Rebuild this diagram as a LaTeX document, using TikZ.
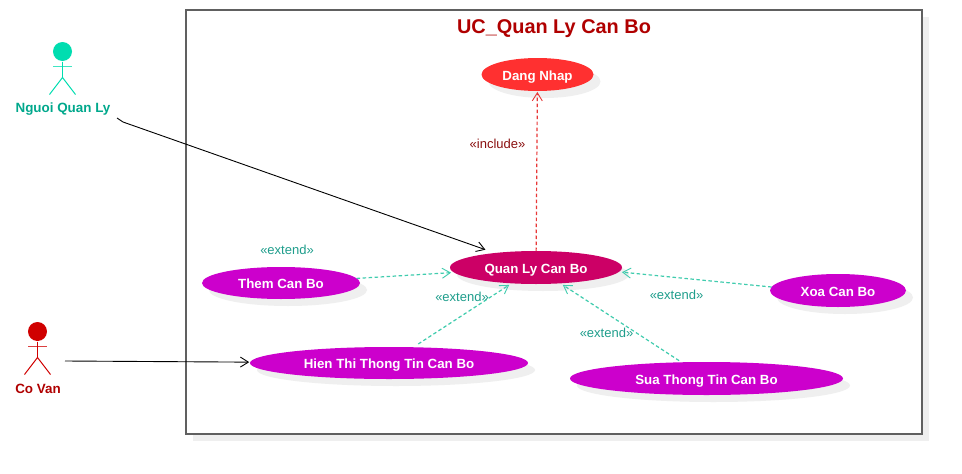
\documentclass[tikz,border=0pt]{standalone}
\usepackage{fontspec}
\setmainfont{Liberation Sans}
\usetikzlibrary{arrows.meta,shapes.geometric}
\definecolor{teal1}{HTML}{00DDB0}
\definecolor{teal2}{HTML}{00A88C}
\definecolor{teal3}{HTML}{1F9E8C}
\definecolor{dashteal}{HTML}{40CCAE}
\definecolor{red1}{HTML}{D00000}
\definecolor{red2}{HTML}{B00000}
\definecolor{red3}{HTML}{8B1010}
\definecolor{dashred}{HTML}{E83838}
\definecolor{shadowc}{HTML}{EFEFEF}
\definecolor{framec}{HTML}{606060}
\definecolor{casered}{HTML}{FF3030}
\definecolor{casecrimson}{HTML}{CC0066}
\definecolor{casemagenta}{HTML}{CC00CC}
\tikzset{
  x=1pt,y=-1pt,
  usecase/.style={ellipse,inner sep=0pt,outer sep=0pt,text=white,font=\fontsize{13.3}{15}\selectfont\bfseries,text height=11.5pt,text depth=0pt},
  pinkcase/.style={usecase,fill=#1},
  caseshadow/.style={ellipse,inner sep=0pt,outer sep=0pt,fill=shadowc},
  actorlabel/.style={font=\fontsize{13.4}{15}\selectfont\bfseries,inner sep=0pt},
  stereo/.style={font=\fontsize{13}{15}\selectfont,inner sep=0pt},
  opentip/.style={-{Straight Barb[length=8pt,width=10pt,line width=0.9pt]}},
  assoc/.style={opentip,draw=black,line width=0.9pt},
  dep/.style={opentip,line width=1.2pt,dash pattern=on 3.5pt off 2.5pt},
}
\newcommand{\UseCase}[7]{% name, cx, cy, w, h, colour, text
  \node[caseshadow,minimum width=#4pt,minimum height=#5pt] at (#2+7,#3+7) {};
  \node[pinkcase=#6,minimum width=#4pt,minimum height=#5pt] (#1) at (#2,#3) {#7};
}
\newcommand{\Actor}[4]{% name, cx, headcy, colour
  \begin{scope}[shift={(#2,#3)},line width=1pt]
    \node[circle,fill=#4,inner sep=0pt,minimum size=19pt] (#1) at (0,0) {};
    \draw[draw=#4] (#1.south) -- (0,26);
    \draw[draw=#4,line width=1.3pt,opacity=.75] (-9.5,15) -- (9.5,15);
    \draw[draw=#4] (-13,43) -- (0,26) -- (13,43);
  \end{scope}
}
\begin{document}
\begin{tikzpicture}
\useasboundingbox (0,0) rectangle (962,474);
\fill[white] (0,0) rectangle (962,474);
% frame
\fill[shadowc] (193,17) rectangle (929,441);
\node[draw=framec,fill=white,line width=1.4pt,minimum width=736pt,minimum height=424pt,inner sep=0pt,outer sep=0pt] (frame) at (554,222) {};
\node[font=\fontsize{19.9}{22}\selectfont\bfseries,text=red2,inner sep=0pt] (title) at (554,28.5) {UC\_Quan Ly Can Bo};
% use cases
\UseCase{dang}{537.5}{74.5}{112}{33}{casered}{Dang Nhap}
\UseCase{quan}{536}{267.5}{172}{33}{casecrimson}{Quan Ly Can Bo}
\UseCase{them}{281}{283}{158}{32}{casemagenta}{Them Can Bo}
\UseCase{hien}{389}{363}{278}{32}{casemagenta}{Hien Thi Thong Tin Can Bo}
\UseCase{xoa}{838}{290.5}{136}{33}{casemagenta}{Xoa Can Bo}
\UseCase{sua}{706.5}{378.5}{273}{33}{casemagenta}{Sua Thong Tin Can Bo}
% actors
\Actor{nqlhead}{62.5}{51.5}{teal1}
\node[actorlabel,text=teal2] (nql) at (63,109) {Nguoi Quan Ly};
\Actor{cvhead}{37.5}{331.5}{red1}
\node[actorlabel,text=red2] (cv) at (38,389) {Co Van};
% connector ends
\coordinate (nqlout) at (117,118);
\coordinate (nqlbend) at (123,122);
\coordinate (cvout) at (65,361);
% connectors
\draw[assoc,shorten >=10pt] (nqlout) -- (nqlbend) -- (quan);
\draw[assoc,shorten >=1pt] (cvout) -- (hien);
\draw[dep,draw=dashred,shorten >=1pt] (quan) -- (dang);
\draw[dep,draw=dashteal,shorten >=3pt] (them) -- (quan);
\draw[dep,draw=dashteal,shorten >=3pt,shorten <=6pt] (hien) -- (quan);
\draw[dep,draw=dashteal,shorten >=3pt] (xoa.177) -- (quan.-3);
\draw[dep,draw=dashteal,shorten >=3pt,shorten <=3pt] (sua) -- (quan);
% stereotypes
\node[stereo,text=red3] (inc) at (497.5,144) {«include»};
\node[stereo,text=teal3] (e1) at (287,250) {«extend»};
\node[stereo,text=teal3] (e2) at (462,297) {«extend»};
\node[stereo,text=teal3] (e3) at (676.5,295) {«extend»};
\node[stereo,text=teal3] (e4) at (606.5,333) {«extend»};
\end{tikzpicture}
\end{document}
